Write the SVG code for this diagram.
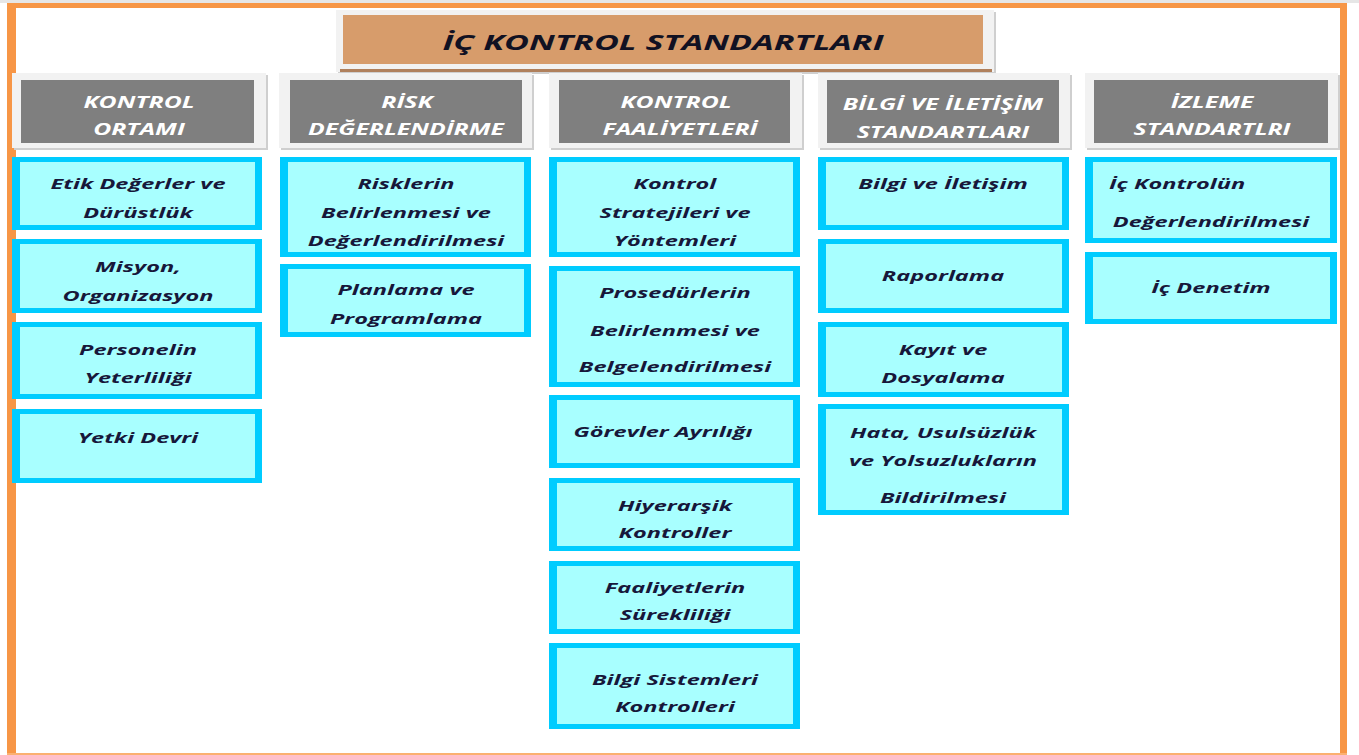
<svg xmlns="http://www.w3.org/2000/svg" width="1359" height="755" viewBox="0 0 1359 755">
<style>
.frame{fill:#F2F2F2}
.shadow{fill:#CFCFCF}
.hdr{fill:#7F7F7F}
.box{fill:#00CCFF}
.inner{fill:#A8FFFF}
.t{font-family:"Open Sans","DejaVu Sans",sans-serif;font-weight:bold;font-style:italic;font-size:15px;fill:#17173A;text-anchor:middle}
.ts{text-anchor:start}
.h{font-family:"Open Sans","DejaVu Sans",sans-serif;font-weight:bold;font-style:italic;font-size:16px;fill:#FFFFFF;text-anchor:middle}
.title{font-family:"Open Sans","DejaVu Sans",sans-serif;font-weight:bold;font-style:italic;font-size:21px;fill:#111122;text-anchor:middle}
</style>
<rect x="0" y="0" width="1359" height="755" fill="#FFFFFF"/>
<rect x="0" y="0" width="1359" height="3" fill="#E6E6E6"/>
<g id="border">
<rect x="7" y="3" width="1340" height="5" fill="#F79646"/>
<rect x="7" y="3" width="9" height="752" fill="#F79646"/>
<rect x="1340" y="3" width="7" height="752" fill="#F79646"/>
<rect x="7" y="753" width="1340" height="2" fill="#FBB070"/>
</g>
<g id="title">
<rect x="338" y="12" width="658" height="62" class="shadow"/>
<rect x="336" y="10" width="658" height="62" class="frame"/>
<rect x="343" y="15" width="640" height="49" fill="#D79C6B"/>
<rect x="340" y="69" width="652" height="3" fill="#B0805C"/>
<text class="title" transform="translate(663,50) scale(1.63,1)" x="0" y="0">İÇ KONTROL STANDARTLARI</text>
</g>
<g id="headers">
<g id="h1">
<rect x="14" y="75" width="254" height="75" class="shadow"/>
<rect x="12" y="73" width="254" height="75" class="frame"/>
<rect x="21" y="80" width="233" height="63" class="hdr"/>
<text class="h" transform="translate(139,108) scale(1.55,1)" x="0" y="0">KONTROL</text>
<text class="h" transform="translate(139,135) scale(1.55,1)" x="0" y="0">ORTAMI</text>
</g>
<g id="h2">
<rect x="281" y="75" width="253" height="75" class="shadow"/>
<rect x="279" y="73" width="253" height="75" class="frame"/>
<rect x="290" y="80" width="232" height="63" class="hdr"/>
<text class="h" transform="translate(407,108) scale(1.55,1)" x="0" y="0">RİSK</text>
<text class="h" transform="translate(406,135) scale(1.55,1)" x="0" y="0">DEĞERLENDİRME</text>
</g>
<g id="h3">
<rect x="551" y="75" width="253" height="75" class="shadow"/>
<rect x="549" y="73" width="253" height="75" class="frame"/>
<rect x="559" y="80" width="231" height="63" class="hdr"/>
<text class="h" transform="translate(676,108) scale(1.55,1)" x="0" y="0">KONTROL</text>
<text class="h" transform="translate(680,135) scale(1.55,1)" x="0" y="0">FAALİYETLERİ</text>
</g>
<g id="h4">
<rect x="820" y="75" width="252" height="75" class="shadow"/>
<rect x="818" y="73" width="252" height="75" class="frame"/>
<rect x="827" y="80" width="232" height="63" class="hdr"/>
<text class="h" transform="translate(943,110) scale(1.55,1)" x="0" y="0">BİLGİ VE İLETİŞİM</text>
<text class="h" transform="translate(943,138) scale(1.55,1)" x="0" y="0">STANDARTLARI</text>
</g>
<g id="h5">
<rect x="1087" y="75" width="253" height="75" class="shadow"/>
<rect x="1085" y="73" width="253" height="75" class="frame"/>
<rect x="1094" y="80" width="234" height="63" class="hdr"/>
<text class="h" transform="translate(1212,108) scale(1.55,1)" x="0" y="0">İZLEME</text>
<text class="h" transform="translate(1212,135) scale(1.55,1)" x="0" y="0">STANDARTLRI</text>
</g>
</g>
<g id="col1">
<g id="n-etik"><rect x="12" y="157" width="250" height="73" class="box"/><rect x="20" y="162" width="235" height="63" class="inner"/>
<text class="t" transform="translate(138,189) scale(1.57,1)">Etik Değerler ve</text>
<text class="t" transform="translate(138,218) scale(1.57,1)">Dürüstlük</text></g>
<g id="n-misyon"><rect x="12" y="239" width="250" height="74" class="box"/><rect x="20" y="244" width="235" height="64" class="inner"/>
<text class="t" transform="translate(138,272) scale(1.57,1)">Misyon,</text>
<text class="t" transform="translate(138,301) scale(1.57,1)">Organizasyon</text></g>
<g id="n-personel"><rect x="12" y="322" width="250" height="77" class="box"/><rect x="20" y="327" width="235" height="67" class="inner"/>
<text class="t" transform="translate(138,355) scale(1.57,1)">Personelin</text>
<text class="t" transform="translate(138,383) scale(1.57,1)">Yeterliliği</text></g>
<g id="n-yetki"><rect x="12" y="409" width="250" height="74" class="box"/><rect x="20" y="414" width="235" height="64" class="inner"/>
<text class="t" transform="translate(138,443) scale(1.57,1)">Yetki Devri</text></g>
</g>
<g id="col2">
<g id="n-risk"><rect x="280" y="157" width="251" height="100" class="box"/><rect x="288" y="162" width="236" height="90" class="inner"/>
<text class="t" transform="translate(406,189) scale(1.57,1)">Risklerin</text>
<text class="t" transform="translate(406,218) scale(1.57,1)">Belirlenmesi ve</text>
<text class="t" transform="translate(406,246) scale(1.57,1)">Değerlendirilmesi</text></g>
<g id="n-plan"><rect x="280" y="264" width="251" height="73" class="box"/><rect x="288" y="269" width="236" height="63" class="inner"/>
<text class="t" transform="translate(406,295) scale(1.57,1)">Planlama ve</text>
<text class="t" transform="translate(406,324) scale(1.57,1)">Programlama</text></g>
</g>
<g id="col3">
<g id="n-strat"><rect x="549" y="157" width="251" height="100" class="box"/><rect x="557" y="162" width="236" height="90" class="inner"/>
<text class="t" transform="translate(675,189) scale(1.57,1)">Kontrol</text>
<text class="t" transform="translate(675,218) scale(1.57,1)">Stratejileri ve</text>
<text class="t" transform="translate(675,246) scale(1.57,1)">Yöntemleri</text></g>
<g id="n-prosedur"><rect x="549" y="266" width="251" height="121" class="box"/><rect x="557" y="271" width="236" height="111" class="inner"/>
<text class="t" transform="translate(675,298) scale(1.57,1)">Prosedürlerin</text>
<text class="t" transform="translate(675,336) scale(1.57,1)">Belirlenmesi ve</text>
<text class="t" transform="translate(675,372) scale(1.57,1)">Belgelendirilmesi</text></g>
<g id="n-gorev"><rect x="549" y="395" width="251" height="73" class="box"/><rect x="557" y="400" width="236" height="63" class="inner"/>
<text class="t" transform="translate(663,437) scale(1.57,1)">Görevler Ayrılığı</text></g>
<g id="n-hiyer"><rect x="549" y="478" width="251" height="73" class="box"/><rect x="557" y="483" width="236" height="63" class="inner"/>
<text class="t" transform="translate(675,511) scale(1.57,1)">Hiyerarşik</text>
<text class="t" transform="translate(675,538) scale(1.57,1)">Kontroller</text></g>
<g id="n-faal"><rect x="549" y="561" width="251" height="73" class="box"/><rect x="557" y="566" width="236" height="63" class="inner"/>
<text class="t" transform="translate(675,593) scale(1.57,1)">Faaliyetlerin</text>
<text class="t" transform="translate(675,620) scale(1.57,1)">Sürekliliği</text></g>
<g id="n-bilgisis"><rect x="549" y="643" width="251" height="86" class="box"/><rect x="557" y="648" width="236" height="76" class="inner"/>
<text class="t" transform="translate(675,685) scale(1.57,1)">Bilgi Sistemleri</text>
<text class="t" transform="translate(675,712) scale(1.57,1)">Kontrolleri</text></g>
</g>
<g id="col4">
<g id="n-bilgi"><rect x="818" y="157" width="251" height="73" class="box"/><rect x="826" y="162" width="236" height="63" class="inner"/>
<text class="t" transform="translate(943,189) scale(1.57,1)">Bilgi ve İletişim</text></g>
<g id="n-rapor"><rect x="818" y="239" width="251" height="74" class="box"/><rect x="826" y="244" width="236" height="64" class="inner"/>
<text class="t" transform="translate(943,281) scale(1.57,1)">Raporlama</text></g>
<g id="n-kayit"><rect x="818" y="322" width="251" height="75" class="box"/><rect x="826" y="327" width="236" height="65" class="inner"/>
<text class="t" transform="translate(943,355) scale(1.57,1)">Kayıt ve</text>
<text class="t" transform="translate(943,383) scale(1.57,1)">Dosyalama</text></g>
<g id="n-hata"><rect x="818" y="404" width="251" height="111" class="box"/><rect x="826" y="409" width="236" height="101" class="inner"/>
<text class="t" transform="translate(943,438) scale(1.57,1)">Hata, Usulsüzlük</text>
<text class="t" transform="translate(943,466) scale(1.57,1)">ve Yolsuzlukların</text>
<text class="t" transform="translate(943,503) scale(1.57,1)">Bildirilmesi</text></g>
</g>
<g id="col5">
<g id="n-ickontrol"><rect x="1085" y="157" width="252" height="86" class="box"/><rect x="1093" y="162" width="237" height="76" class="inner"/>
<text class="t ts" transform="translate(1109,189) scale(1.57,1)">İç Kontrolün</text>
<text class="t" transform="translate(1211,227) scale(1.57,1)">Değerlendirilmesi</text></g>
<g id="n-icdenetim"><rect x="1085" y="252" width="252" height="72" class="box"/><rect x="1093" y="257" width="237" height="62" class="inner"/>
<text class="t" transform="translate(1211,293) scale(1.57,1)">İç Denetim</text></g>
</g>
<g id="connectors"/>
</svg>
